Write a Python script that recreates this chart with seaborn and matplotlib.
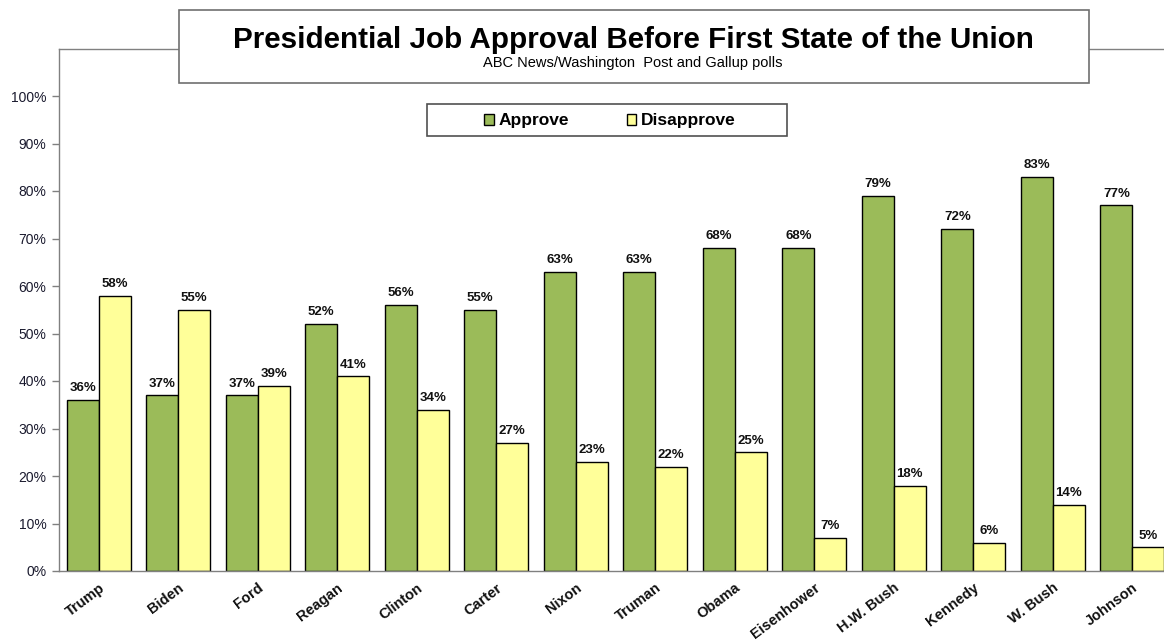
import matplotlib
matplotlib.use("Agg")
import matplotlib.pyplot as plt
from matplotlib.patches import Rectangle
import seaborn as sns
import pandas as pd
import numpy as np

presidents = ["Trump", "Biden", "Ford", "Reagan", "Clinton", "Carter", "Nixon",
              "Truman", "Obama", "Eisenhower", "H.W. Bush", "Kennedy", "W. Bush", "Johnson"]
approve = [36, 37, 37, 52, 56, 55, 63, 63, 68, 68, 79, 72, 83, 77]
disapprove = [58, 55, 39, 41, 34, 27, 23, 22, 25, 7, 18, 6, 14, 5]
series = ["Approve", "Disapprove"]
colors = ["#9BBB59", "#FFFF99"]
yticks = [0, 10, 20, 30, 40, 50, 60, 70, 80, 90, 100]

df = pd.DataFrame({
    "President": presidents * 2,
    "Series": [series[0]] * len(presidents) + [series[1]] * len(presidents),
    "Value": approve + disapprove,
})

sns.set_style("white")
plt.rcParams["font.family"] = ["Liberation Sans", "DejaVu Sans"]
plt.rcParams["text.color"] = "black"

W, H = 1164, 641
fig = plt.figure(figsize=(W / 100, H / 100), dpi=100)
ax_left, ax_right = 59, 59 + 14 * 79.5
ax_top, ax_bottom = 48.5, 571
ax = fig.add_axes([ax_left / W, (H - ax_bottom) / H, (ax_right - ax_left) / W, (ax_bottom - ax_top) / H])

sns.barplot(data=df, x="President", y="Value", hue="Series", palette=colors, saturation=1,
            edgecolor="black", linewidth=1.0, width=0.8, ax=ax, legend=True)

for cont in ax.containers:
    ax.bar_label(cont, fmt="%d%%", padding=4, fontsize=9.5, fontweight="bold", color="#111111")

ax.set_xlim(-0.5, len(presidents) - 0.5)
ax.set_ylim(0, 110)
ax.set_yticks(yticks)
ax.set_yticklabels([f"{v}%" for v in yticks], fontsize=10, color="#1a1a2e")
ax.set_xticks(range(len(presidents)))
ax.set_xticklabels(presidents, rotation=37, ha="right", rotation_mode="anchor",
                   fontsize=10.5, fontweight="bold", color="#111111")
ax.tick_params(axis="x", length=0, pad=7)
ax.set_xticks(np.arange(-0.5, len(presidents), 1), minor=True)
ax.tick_params(axis="x", which="minor", length=5, color="#808080", width=1, direction="out")
ax.tick_params(axis="y", length=5, color="#808080", width=1, direction="out", pad=4, left=True)
ax.set_xlabel("")
ax.set_ylabel("")
for side in ["left", "bottom", "top"]:
    ax.spines[side].set_visible(True)
    ax.spines[side].set_color("#808080")
    ax.spines[side].set_linewidth(1.0)
ax.spines["right"].set_visible(False)

# Title box
fig.patches.append(Rectangle((179 / W, (H - 83) / H), 910 / W, 73 / H, transform=fig.transFigure,
                             facecolor="white", edgecolor="#707070", linewidth=1.2, zorder=2))
fig.text(633 / W, (H - 40) / H, "Presidential Job Approval Before First State of the Union",
         ha="center", va="center", fontsize=21.3, fontweight="bold", color="black", zorder=3)
fig.text(633 / W, (H - 63) / H, "ABC News/Washington  Post and Gallup polls",
         ha="center", va="center", fontsize=10.5, color="black", zorder=3,
         family=["Liberation Sans Narrow", "Liberation Sans", "DejaVu Sans"])

# Legend box
fig.patches.append(Rectangle((427 / W, (H - 136) / H), 360 / W, 32 / H, transform=fig.transFigure,
                             facecolor="white", edgecolor="#505050", linewidth=1.2, zorder=2))
handles, labels = ax.get_legend_handles_labels()
if ax.get_legend():
    ax.get_legend().remove()
leg = fig.legend(handles, labels, loc="center", bbox_to_anchor=(610 / W, (H - 121) / H),
                 bbox_transform=fig.transFigure, ncol=2, frameon=False,
                 prop={"weight": "bold", "size": 12.5}, handlelength=0.55, handleheight=0.55,
                 handletextpad=0.3, columnspacing=3.3)
leg.set_zorder(4)
for t in leg.get_texts():
    t.set_color("black")

fig.savefig("out.png", dpi=100, facecolor="white")
